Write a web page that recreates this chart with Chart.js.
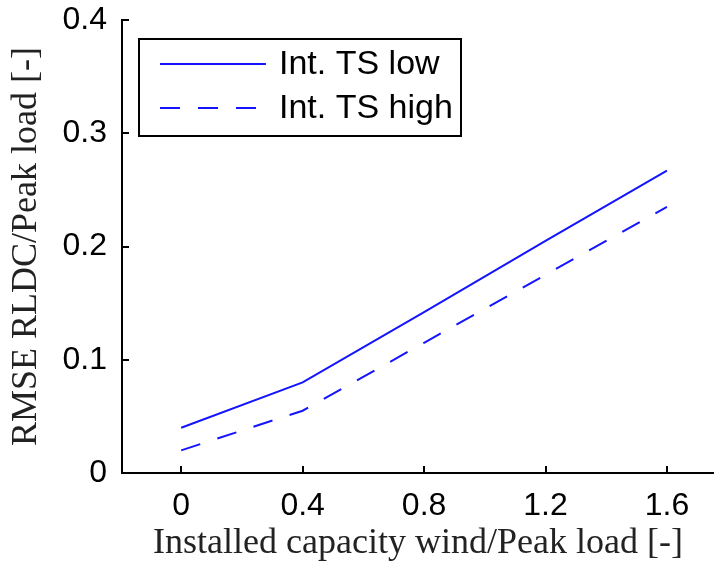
<!DOCTYPE html>
<html>
<head>
<meta charset="utf-8">
<script src="https://cdn.jsdelivr.net/npm/chart.js@4/dist/chart.umd.min.js"></script>
<style>
  html, body { margin: 0; padding: 0; background: #fff; overflow: hidden; }
  #wrap { width: 714px; height: 563px; }
</style>
</head>
<body>
<div id="wrap"><canvas id="chart" width="714" height="563"></canvas></div>
<script>
/* Datos */
const capacity = [0, 0.4, 0.8, 1.2, 1.6];
const tsLow = [0.04, 0.08, 0.142, 0.205, 0.267];
const tsHigh = [0.02, 0.055, 0.115, 0.175, 0.235];
const xTicks = [0, 0.4, 0.8, 1.2, 1.6];
const yTicks = [0, 0.1, 0.2, 0.3, 0.4];
const seriesNames = ['Int. TS low', 'Int. TS high'];

const blue = 'rgb(20,20,255)';
const tickFont = { family: 'Liberation Sans', size: 32 };

function toPoints(values) {
    return capacity.map((c, i) => ({ x: c, y: values[i] }));
}

/* Marcas de los ticks hacia adentro */
const innerTicks = {
    id: 'innerTicks',
    afterDatasetsDraw(chart) {
        const { ctx, chartArea, scales } = chart;
        ctx.save();
        ctx.strokeStyle = '#000';
        ctx.lineWidth = 2;
        xTicks.forEach(v => {
            const px = Math.round(scales.x.getPixelForValue(v));
            ctx.beginPath();
            ctx.moveTo(px, chartArea.bottom);
            ctx.lineTo(px, chartArea.bottom - 7);
            ctx.stroke();
        });
        yTicks.forEach(v => {
            const py = Math.round(scales.y.getPixelForValue(v));
            ctx.beginPath();
            ctx.moveTo(chartArea.left, py);
            ctx.lineTo(chartArea.left + 7, py);
            ctx.stroke();
        });
        ctx.restore();
    }
};

/* Leyenda con recuadro, como en la figura */
const boxLegend = {
    id: 'boxLegend',
    afterDraw(chart) {
        const ctx = chart.ctx;
        const bx = 139, by = 39, bw = 322, bh = 97;
        ctx.save();
        ctx.fillStyle = '#fff';
        ctx.fillRect(bx, by, bw, bh);
        ctx.strokeStyle = '#000';
        ctx.lineWidth = 2;
        ctx.strokeRect(bx, by, bw, bh);
        chart.data.datasets.forEach((ds, i) => {
            const y = by + 25 + i * 44;
            ctx.strokeStyle = ds.borderColor;
            ctx.lineWidth = 2;
            ctx.setLineDash(ds.borderDash || []);
            ctx.beginPath();
            ctx.moveTo(160, y);
            ctx.lineTo(266, y);
            ctx.stroke();
            ctx.setLineDash([]);
            ctx.fillStyle = '#000';
            ctx.font = '34px "Liberation Sans"';
            ctx.textBaseline = 'middle';
            ctx.fillText(ds.label, 279, y + 1);
        });
        ctx.restore();
    }
};

new Chart(document.getElementById('chart').getContext('2d'), {
    type: 'line',
    data: {
        datasets: [
            {
                label: seriesNames[0],
                data: toPoints(tsLow),
                borderColor: blue,
                borderWidth: 2,
                pointRadius: 0,
                tension: 0
            },
            {
                label: seriesNames[1],
                data: toPoints(tsHigh),
                borderColor: blue,
                borderWidth: 2,
                borderDash: [20, 18],
                pointRadius: 0,
                tension: 0
            }
        ]
    },
    options: {
        responsive: false,
        animation: false,
        layout: { padding: { top: 20, right: 0, left: 0, bottom: 0 } },
        plugins: {
            legend: { display: false },
            tooltip: { enabled: false }
        },
        scales: {
            x: {
                type: 'linear',
                min: -0.195,
                max: 1.755,
                afterBuildTicks: scale => { scale.ticks = xTicks.map(v => ({ value: v })); },
                afterFit: scale => { scale.height = 90; scale.paddingLeft = 0; scale.paddingRight = 0; },
                grid: { display: false },
                border: { display: true, color: '#000', width: 2 },
                ticks: {
                    color: '#000',
                    font: tickFont,
                    padding: 6,
                    maxRotation: 0,
                    autoSkip: false,
                    callback: v => String(Math.round(v * 10) / 10)
                },
                title: {
                    display: true,
                    text: 'Installed capacity wind/Peak load [-]',
                    color: '#222',
                    font: { family: 'Liberation Serif', size: 36 },
                    padding: { top: 0, bottom: -2 }
                }
            },
            y: {
                min: 0,
                max: 0.4,
                afterBuildTicks: scale => { scale.ticks = yTicks.map(v => ({ value: v })); },
                afterFit: scale => { scale.width = 122; scale.paddingTop = 0; scale.paddingBottom = 0; },
                grid: { display: false },
                border: { display: true, color: '#000', width: 2 },
                ticks: {
                    color: '#000',
                    font: tickFont,
                    padding: 7,
                    callback: v => String(Math.round(v * 10) / 10)
                },
                title: {
                    display: true,
                    text: 'RMSE RLDC/Peak load [-]',
                    color: '#222',
                    font: { family: 'Liberation Serif', size: 36 },
                    padding: { top: 5, bottom: 0 }
                }
            }
        }
    },
    plugins: [innerTicks, boxLegend]
});
</script>
</body>
</html>
